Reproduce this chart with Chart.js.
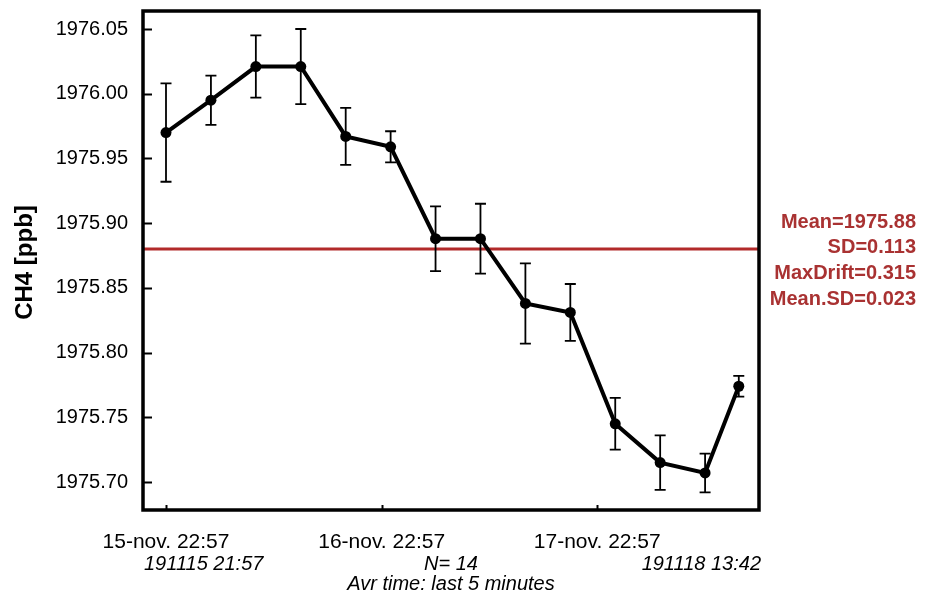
<!DOCTYPE html>
<html>
<head>
<meta charset="utf-8">
<script src="https://cdn.jsdelivr.net/npm/chart.js@4.4.1/dist/chart.umd.min.js"></script>
<style>
html,body{margin:0;padding:0;background:#fff;}
#wrap{width:930px;height:597px;position:relative;}
</style>
</head>
<body>
<div id="wrap"><canvas id="c" width="930" height="597"></canvas></div>
<script>
// ---- data ----
const hoursSinceStart = [0, 5, 10, 15, 20, 25, 30, 35, 40, 45, 50, 55, 60, 63.75];
const ch4Values = [1975.970, 1975.995, 1976.021, 1976.021, 1975.967, 1975.959, 1975.888, 1975.888, 1975.838, 1975.831, 1975.745, 1975.715, 1975.707, 1975.774];
const ch4SD = [0.038, 0.019, 0.024, 0.029, 0.022, 0.012, 0.025, 0.027, 0.031, 0.022, 0.020, 0.021, 0.015, 0.008];
const meanValue = 1975.88;
const yTickValues = [1975.70, 1975.75, 1975.80, 1975.85, 1975.90, 1975.95, 1976.00, 1976.05];
const xTickValues = [0, 24, 48];
const xTickLabels = ['15-nov. 22:57', '16-nov. 22:57', '17-nov. 22:57'];
const statLines = ['Mean=1975.88', 'SD=0.113', 'MaxDrift=0.315', 'Mean.SD=0.023'];
const startLabel = '191115 21:57';
const endLabel = '191118 13:42';
const nLabel = 'N= 14';
const avrLabel = 'Avr time: last 5 minutes';
const yTitle = 'CH4 [ppb]';

const FONT = '"Liberation Sans", Arial, sans-serif';
const RED = '#a93232';

const points = hoursSinceStart.map((h, i) => ({x: h, y: ch4Values[i]}));

const decorPlugin = {
  id: 'decor',
  beforeDatasetsDraw(chart) {
    const ctx = chart.ctx, a = chart.chartArea;
    const xs = chart.scales.x, ys = chart.scales.y;
    ctx.save();
    // mean line
    const my = ys.getPixelForValue(meanValue);
    ctx.strokeStyle = '#b22a2a';
    ctx.lineWidth = 3;
    ctx.beginPath();
    ctx.moveTo(a.left, my); ctx.lineTo(a.right, my);
    ctx.stroke();
    // error bars
    ctx.strokeStyle = '#000';
    ctx.lineWidth = 1.8;
    hoursSinceStart.forEach((h, i) => {
      const px = xs.getPixelForValue(h);
      const top = ys.getPixelForValue(ch4Values[i] + ch4SD[i]);
      const bot = ys.getPixelForValue(ch4Values[i] - ch4SD[i]);
      ctx.beginPath();
      ctx.moveTo(px, top); ctx.lineTo(px, bot);
      ctx.moveTo(px - 5.5, top); ctx.lineTo(px + 5.5, top);
      ctx.moveTo(px - 5.5, bot); ctx.lineTo(px + 5.5, bot);
      ctx.stroke();
    });
    ctx.restore();
  },
  afterDraw(chart) {
    const ctx = chart.ctx, a = chart.chartArea;
    const xs = chart.scales.x, ys = chart.scales.y;
    ctx.save();
    // inward ticks
    ctx.strokeStyle = '#000';
    ctx.lineWidth = 2;
    yTickValues.forEach(v => {
      const py = Math.round(ys.getPixelForValue(v)) + 0.5;
      ctx.beginPath(); ctx.moveTo(a.left, py); ctx.lineTo(a.left + 9, py); ctx.stroke();
    });
    xTickValues.forEach(v => {
      const px = Math.round(xs.getPixelForValue(v)) + 0.5;
      ctx.beginPath(); ctx.moveTo(px, a.bottom); ctx.lineTo(px, a.bottom - 5); ctx.stroke();
    });
    // frame
    ctx.lineWidth = 3.5;
    ctx.strokeRect(a.left, a.top, a.right - a.left, a.bottom - a.top);
    // y title
    ctx.fillStyle = '#000';
    ctx.font = 'bold 24px ' + FONT;
    ctx.textAlign = 'center';
    ctx.textBaseline = 'middle';
    ctx.translate(25, (a.top + a.bottom) / 2 + 2);
    ctx.rotate(-Math.PI / 2);
    ctx.fillText(yTitle, 0, 0);
    ctx.setTransform(1, 0, 0, 1, 0, 0);
    // stats
    ctx.fillStyle = RED;
    ctx.font = 'bold 20px ' + FONT;
    ctx.textAlign = 'right';
    ctx.textBaseline = 'middle';
    statLines.forEach((t, i) => ctx.fillText(t, 916, 222 + i * 25.7));
    // bottom texts
    ctx.fillStyle = '#000';
    ctx.font = 'italic 20px ' + FONT;
    ctx.textAlign = 'left';
    ctx.fillText(startLabel, a.left + 1, 564);
    ctx.textAlign = 'right';
    ctx.fillText(endLabel, a.right + 2, 564);
    ctx.textAlign = 'center';
    ctx.fillText(nLabel, (a.left + a.right) / 2, 564);
    ctx.fillText(avrLabel, (a.left + a.right) / 2, 584);
    ctx.restore();
  }
};

new Chart(document.getElementById('c'), {
  type: 'line',
  data: {
    datasets: [{
      data: points,
      borderColor: '#000',
      backgroundColor: '#000',
      borderWidth: 4,
      pointRadius: 5.5,
      pointBackgroundColor: '#000',
      pointBorderWidth: 0,
      tension: 0
    }]
  },
  options: {
    responsive: false,
    animation: false,
    devicePixelRatio: 1,
    layout: {padding: {top: 11, right: 171, left: 0, bottom: 0}},
    plugins: {legend: {display: false}, tooltip: {enabled: false}},
    scales: {
      x: {
        type: 'linear',
        min: -2.56,
        max: 66.0,
        grid: {display: false, drawTicks: false},
        border: {display: false},
        afterFit: s => { s.height = 87; s.paddingLeft = 0; s.paddingRight = 0; },
        afterBuildTicks: s => { s.ticks = xTickValues.map(v => ({value: v})); },
        ticks: {
          autoSkip: false,
          maxRotation: 0,
          padding: 20,
          color: '#000',
          font: {family: FONT, size: 21},
          callback: v => xTickLabels[xTickValues.indexOf(v)]
        }
      },
      y: {
        min: 1975.6784,
        max: 1976.0639,
        grid: {display: false, drawTicks: false},
        border: {display: false},
        afterFit: s => { s.width = 143; s.paddingTop = 0; s.paddingBottom = 0; },
        afterBuildTicks: s => { s.ticks = yTickValues.map(v => ({value: v})); },
        ticks: {
          padding: 15,
          color: '#000',
          font: {family: FONT, size: 20},
          callback: v => Number(v).toFixed(2)
        }
      }
    }
  },
  plugins: [decorPlugin]
});
</script>
</body>
</html>
